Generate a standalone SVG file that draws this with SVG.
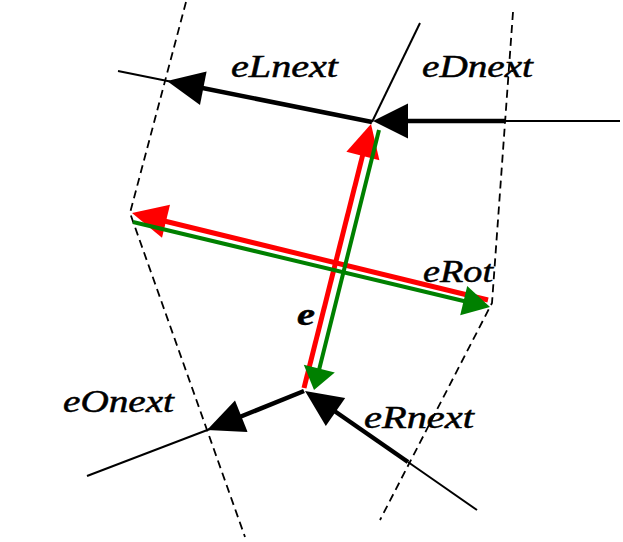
<svg xmlns="http://www.w3.org/2000/svg" width="623" height="542" viewBox="0 0 623 542">
<style>
.dash{fill:none;stroke:#000;stroke-width:1.8;stroke-dasharray:8 5}
.thin{stroke:#000;stroke-width:2;fill:none}
.thick{stroke:#000;stroke-width:4.5;fill:none}
.blk{fill:#000}
.red{stroke:#ff0000;stroke-width:5;fill:none}
.grn{stroke:#008000;stroke-width:4;fill:none}
.lbl{font-family:"Liberation Serif","Times New Roman",serif;font-style:italic;font-size:31px;fill:#000;stroke:#000;stroke-width:0.5}
</style>
<rect width="623" height="542" fill="#fff"/>
<g id="faces">
<polyline class="dash" points="186,2 130,213 245,537"/>
<polyline class="dash" points="513,12 492,303 380,520"/>
</g>
<g id="connectors">
<g id="eLnext">
<line class="thin" x1="118" y1="71" x2="170" y2="81.5"/>
<line class="thick" x1="180" y1="83.5" x2="372" y2="122"/>
<polygon class="blk" points="167,81 206.6,71.6 200,105"/>
</g>
<g id="eDnext">
<line class="thin" x1="505" y1="121" x2="620" y2="121"/>
<line class="thick" x1="390" y1="121" x2="505" y2="121"/>
<polygon class="blk" points="373,121 408,103.5 408,138.5"/>
<line class="thin" x1="372" y1="122" x2="420" y2="23" stroke-width="1.5"/>
</g>
<g id="eOnext">
<line class="thin" x1="87" y1="476" x2="210" y2="429"/>
<line class="thick" x1="220" y1="425" x2="304" y2="391"/>
<polygon class="blk" points="207,430 247.6,432 235,400.4"/>
</g>
<g id="eRnext">
<line class="thick" x1="320" y1="401" x2="408" y2="462"/>
<line class="thin" x1="408" y1="462" x2="477" y2="510"/>
<polygon class="blk" points="305,391 325.8,426 345.2,398"/>
</g>
<g id="e">
<line class="red" x1="304" y1="388" x2="366" y2="142"/>
<polygon fill="#ff0000" points="371,124 379.4,160.2 346.4,151.8"/>
</g>
<g id="eRot-red">
<line class="red" x1="488" y1="300" x2="150" y2="217.5"/>
<polygon fill="#ff0000" points="132,213 162,237.8 170,204.8"/>
</g>
<g id="eSym">
<line class="grn" x1="379" y1="130" x2="318" y2="374"/>
<polygon fill="#008000" points="314,390 334.8,372.6 303.8,364.8"/>
</g>
<g id="eRot-green">
<line class="grn" x1="133" y1="222" x2="472" y2="303"/>
<polygon fill="#008000" points="490,307 467.2,286.1 460.2,315.3"/>
</g>
</g>
<g id="labels">
<text class="lbl" x="231" y="77" textLength="107" lengthAdjust="spacingAndGlyphs">eLnext</text>
<text class="lbl" x="422" y="77" textLength="111" lengthAdjust="spacingAndGlyphs">eDnext</text>
<text class="lbl" x="423" y="282" font-size="29" textLength="70" lengthAdjust="spacingAndGlyphs">eRot</text>
<text class="lbl" x="297" y="325" font-weight="bold" font-size="33" textLength="18" lengthAdjust="spacingAndGlyphs">e</text>
<text class="lbl" x="63" y="412" textLength="111" lengthAdjust="spacingAndGlyphs">eOnext</text>
<text class="lbl" x="364" y="428" textLength="110" lengthAdjust="spacingAndGlyphs">eRnext</text>
</g>
</svg>
